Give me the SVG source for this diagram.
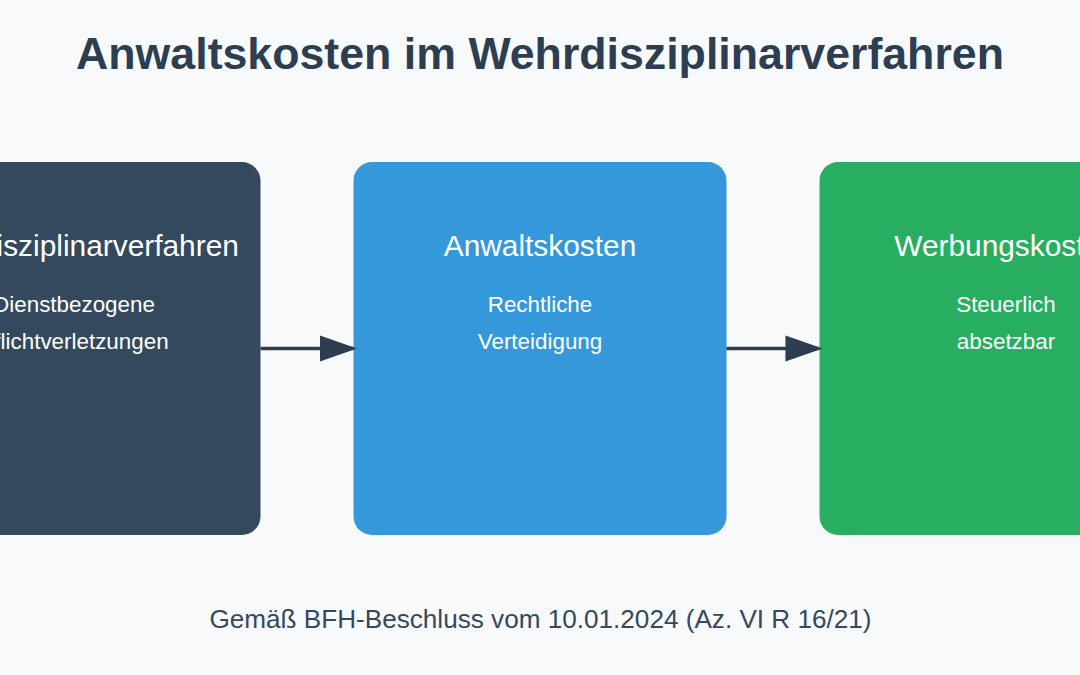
<svg xmlns="http://www.w3.org/2000/svg" width="1080" height="675" viewBox="0 0 1080 675">
<style>
text{font-family:"Liberation Sans",Arial,sans-serif;text-anchor:middle}
.t{font-size:44.7px;font-weight:bold;fill:#2c3e50}
.h{font-size:29.87px;fill:#fff}
.b{font-size:22.4px;fill:#fff}
.f{font-size:26.13px;fill:#34495e}
.c{stroke:#2c3e50;stroke-width:3.73;fill:none;marker-end:url(#a)}
</style>
<defs><marker id="a" markerWidth="10" markerHeight="7" refX="9" refY="3.5" orient="auto"><polygon points="0 0,10 3.5,0 7" fill="#2c3e50"/></marker></defs>
<rect width="1080" height="675" fill="#f8f9fa"/>
<text class="t" x="540" y="69">Anwaltskosten im Wehrdisziplinarverfahren</text>
<g id="node-disziplinar"><rect x="-112.500" y="162" width="373" height="373" rx="18.67" fill="#34495e"/>
<text class="h" x="74" y="255.500">Wehrdisziplinarverfahren</text><text class="b" x="74" y="311.500">Dienstbezogene</text><text class="b" x="74" y="348.500">Pflichtverletzungen</text></g>
<g id="node-anwalt"><rect x="353.500" y="162" width="373" height="373" rx="18.67" fill="#3498db"/>
<text class="h" x="540" y="255.500">Anwaltskosten</text><text class="b" x="540" y="311.500">Rechtliche</text><text class="b" x="540" y="348.500">Verteidigung</text></g>
<g id="node-werbung"><rect x="819.500" y="162" width="373" height="373" rx="18.67" fill="#27ae60"/>
<text class="h" x="1006" y="255.500">Werbungskosten</text><text class="b" x="1006" y="311.500">Steuerlich</text><text class="b" x="1006" y="348.500">absetzbar</text></g>
<g id="connectors"><path class="c" d="M260.500 348.500H353.500"/><path class="c" d="M726.500 348.500H819"/></g>
<text class="f" x="540.500" y="627.500">Gemäß BFH-Beschluss vom 10.01.2024 (Az. VI R 16/21)</text>
</svg>
